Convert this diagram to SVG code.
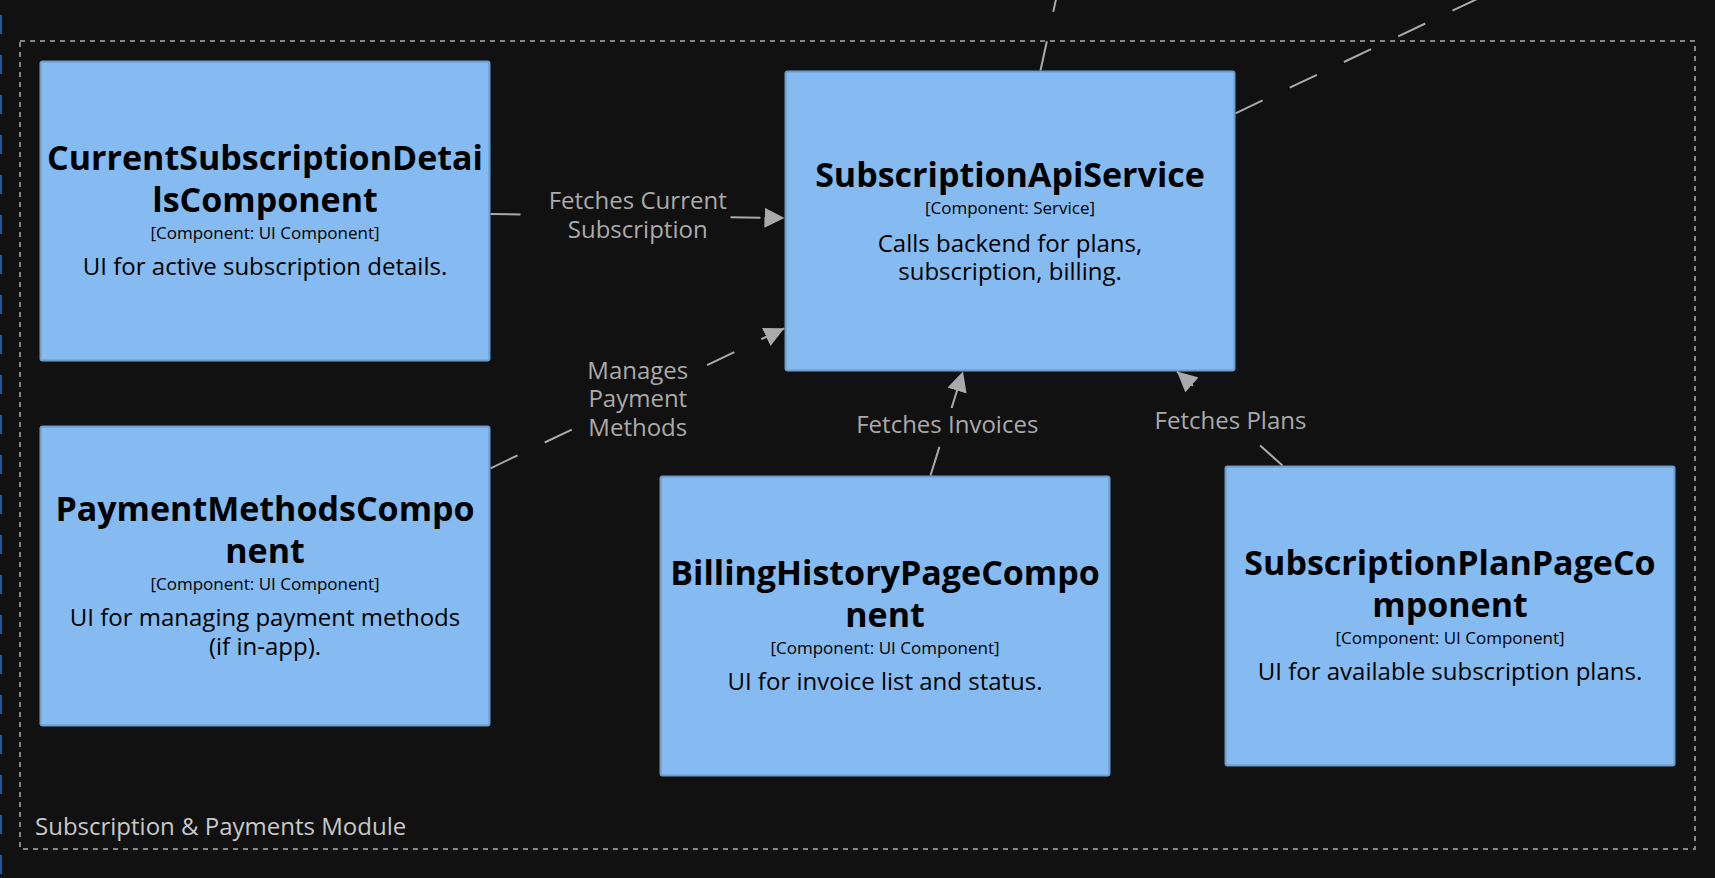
<svg xmlns="http://www.w3.org/2000/svg" width="1715" height="878" viewBox="0 0 1715 878">
  <defs>
    <marker id="arrow" markerUnits="userSpaceOnUse" markerWidth="20" markerHeight="20" viewBox="0 0 20 20" refX="20" refY="10" orient="auto">
      <path d="M0,0 L20,10 L0,20 z" fill="#aaaaaa"/>
    </marker>
    <style>
      .node rect { fill: #85bbf0; stroke: #6d9bcc; stroke-width: 2; }
      .title { font-family: "Open Sans", "Noto Sans", sans-serif; font-weight: bold; font-size: 34px; fill: #000000; text-anchor: middle; }
      .meta { font-family: "Open Sans", "Noto Sans", sans-serif; font-size: 17px; fill: #000000; text-anchor: middle; }
      .desc { font-family: "Open Sans", "Noto Sans", sans-serif; font-size: 24px; fill: #000000; text-anchor: middle; }
      .rel { fill: none; stroke: #aaaaaa; stroke-width: 2; stroke-dasharray: 30 30; }
      .lblbg { fill: #111111; }
      .lbl { font-family: "Open Sans", "Noto Sans", sans-serif; font-size: 24px; fill: #aaaaaa; text-anchor: middle; }
      .boundary { fill: none; stroke: #858585; stroke-width: 2; stroke-dasharray: 5 5; }
      .blabel { font-family: "Open Sans", "Noto Sans", sans-serif; font-size: 24px; fill: #c8c8c8; }
    </style>
  </defs>
  <rect x="0" y="0" width="1715" height="878" fill="#111111"/>
  <line x1="1" y1="15" x2="1" y2="878" stroke="#1e5a9c" stroke-width="2" stroke-dasharray="19 21"/>

  <g id="boundary-subscription-payments">
    <rect class="boundary" x="20" y="41" width="1675" height="808"/>
    <text class="blabel" x="35" y="835">Subscription &amp; Payments Module</text>
  </g>

  <g id="connectors">
    <g id="rel-current-to-api">
      <line class="rel" x1="490.5" y1="214" x2="784.5" y2="218" marker-end="url(#arrow)"/>
      <rect class="lblbg" x="545" y="184" width="183" height="62"/>
      <text class="lbl" x="637.7" y="209">Fetches Current</text>
      <text class="lbl" x="637.7" y="237.5">Subscription</text>
    </g>
    <g id="rel-payment-to-api">
      <line class="rel" x1="490.5" y1="468.3" x2="784.3" y2="328.3" marker-end="url(#arrow)"/>
      <rect class="lblbg" x="588" y="354" width="100" height="90"/>
      <text class="lbl" x="637.8" y="379.3">Manages</text>
      <text class="lbl" x="637.8" y="407.3">Payment</text>
      <text class="lbl" x="637.8" y="435.7">Methods</text>
    </g>
    <g id="rel-billing-to-api">
      <line class="rel" x1="930.5" y1="475.5" x2="963" y2="371.5" marker-end="url(#arrow)"/>
      <rect class="lblbg" x="855" y="408" width="185" height="33"/>
      <text class="lbl" x="947.3" y="433">Fetches Invoices</text>
    </g>
    <g id="rel-plan-to-api">
      <line class="rel" x1="1282.5" y1="465.5" x2="1177" y2="371.5" marker-end="url(#arrow)"/>
      <rect class="lblbg" x="1153" y="404" width="155" height="33"/>
      <text class="lbl" x="1230.5" y="429">Fetches Plans</text>
    </g>
    <g id="rel-api-up">
      <line class="rel" x1="1040.5" y1="70.5" x2="1077.6" y2="-100"/>
    </g>
    <g id="rel-api-upright">
      <line class="rel" x1="1235.5" y1="113.3" x2="1714.5" y2="-113.3"/>
    </g>
  </g>

  <g id="node-current-subscription-details" class="node">
    <rect x="40.5" y="61.5" width="449" height="299" rx="2"/>
    <text class="title" x="265" y="169.5">CurrentSubscriptionDetai</text>
    <text class="title" x="265" y="211.5">lsComponent</text>
    <text class="meta" x="265" y="238.6">[Component: UI Component]</text>
    <text class="desc" x="265" y="275">UI for active subscription details.</text>
  </g>

  <g id="node-subscription-api-service" class="node">
    <rect x="785.5" y="71.5" width="449" height="299" rx="2"/>
    <text class="title" x="1010" y="187">SubscriptionApiService</text>
    <text class="meta" x="1010" y="213.6">[Component: Service]</text>
    <text class="desc" x="1010" y="251.5">Calls backend for plans,</text>
    <text class="desc" x="1010" y="279.5">subscription, billing.</text>
  </g>

  <g id="node-payment-methods" class="node">
    <rect x="40.5" y="426.5" width="449" height="299" rx="2"/>
    <text class="title" x="265" y="520.5">PaymentMethodsCompo</text>
    <text class="title" x="265" y="562.5">nent</text>
    <text class="meta" x="265" y="589.6">[Component: UI Component]</text>
    <text class="desc" x="265" y="626">UI for managing payment methods</text>
    <text class="desc" x="265" y="654.5">(if in-app).</text>
  </g>

  <g id="node-billing-history" class="node">
    <rect x="660.5" y="476.5" width="449" height="299" rx="2"/>
    <text class="title" x="885" y="584.5">BillingHistoryPageCompo</text>
    <text class="title" x="885" y="626.5">nent</text>
    <text class="meta" x="885" y="653.6">[Component: UI Component]</text>
    <text class="desc" x="885" y="690">UI for invoice list and status.</text>
  </g>

  <g id="node-subscription-plan-page" class="node">
    <rect x="1225.5" y="466.5" width="449" height="299" rx="2"/>
    <text class="title" x="1450" y="574.5">SubscriptionPlanPageCo</text>
    <text class="title" x="1450" y="616.5">mponent</text>
    <text class="meta" x="1450" y="643.6">[Component: UI Component]</text>
    <text class="desc" x="1450" y="680">UI for available subscription plans.</text>
  </g>
</svg>
